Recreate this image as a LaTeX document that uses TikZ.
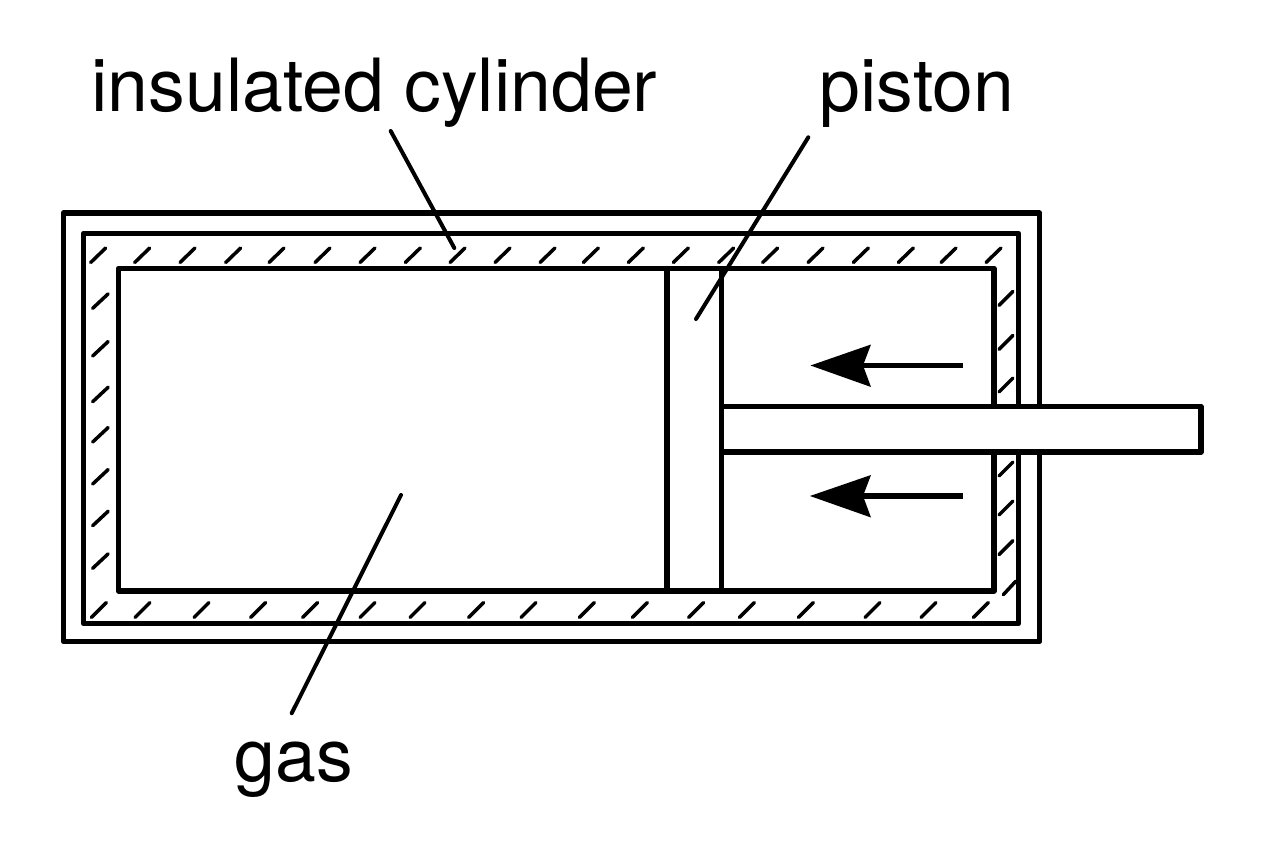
\documentclass[tikz,border=0pt]{standalone}
\usepackage{fontspec}
\setmainfont{TeX Gyre Heros}
\begin{document}
\begin{tikzpicture}[x=1pt,y=-1pt,
  wall/.style={line width=5.6pt,line join=round},
  hatchmark/.style={line width=3.5pt,line cap=round},
  leader/.style={line width=4pt,line cap=round},
  lbl/.style={inner sep=0pt,font=\fontsize{73.4}{73.4}\selectfont},
  pushshaft/.style={line width=5.6pt},
  pushhead/.style={fill=black,draw=none}]
\useasboundingbox (0,0) rectangle (1264,848);
\fill[white] (0,0) rectangle (1264,848);
% walls
\draw[wall] (63.5,213) rectangle (1039.5,641.5);
\draw[wall] (83.5,233.5) rectangle (1018.5,623.5);
\draw[wall] (118.5,268.5) rectangle (994,591);
% rod and piston
\draw[wall,fill=white] (721.5,406.5) -- (1201,406.5) -- (1201,452) -- (721.5,452);
\draw[wall] (667,268.5) rectangle (721.5,591);
% hatching: top, bottom
\foreach \x in {90.7,134.7,180,225.7,269,315,360,405.3,450,495,540,583.3,628.3,673.3,718.7,762.7,808,853.3,898.3,941,986}
  \draw[hatchmark] (\x,262.5) -- ++(15,-14.5);
\foreach \x in {91.3,135,194,250.7,302.7,360,410,468.7,521,579.3,632.3,688.7,739.3,798.3,865,921,973.3}
  \draw[hatchmark] (\x,617.5) -- ++(15,-15);
% hatching: left, right
\foreach \y in {308.3,356,401.7,442,484,525.7,568.3}
  \draw[hatchmark] (92.7,\y) -- ++(15.5,-14.5);
\foreach \y in {305.3,349.3,392,476,515,554.7}
  \draw[hatchmark] (999,\y) -- ++(14,-14);
\draw[hatchmark] (1003.3,594.7) -- ++(12.5,-13.5);
% arrows
\coordinate (upperTail) at (963,365.5);
\coordinate (upperNotch) at (863,365.5);
\coordinate (lowerTail) at (963,496);
\coordinate (lowerNotch) at (863,496);
\draw[pushshaft] (upperTail) -- (upperNotch);
\draw[pushshaft] (lowerTail) -- (lowerNotch);
\fill[pushhead] (810.5,365.5) -- (871,344.5) -- (upperNotch) -- (871,387) -- cycle;
\fill[pushhead] (810,496) -- (871,475) -- (lowerNotch) -- (871,517.5) -- cycle;
% labels
\node[lbl,anchor=base west] (lblcyl) at (91.5,111.5) {insulated cylinder};
\node[lbl,anchor=base west] (lblpiston) at (819.5,111.5) {piston};
\node[lbl,anchor=base west] (lblgas) at (234.5,781) {gas};
% leaders
\coordinate (cylTail) at (390.7,131);
\coordinate (cylTip) at (454.3,248);
\coordinate (pistonTail) at (808.3,137.3);
\coordinate (pistonTip) at (696,319);
\coordinate (gasTail) at (291.7,713.3);
\coordinate (gasTip) at (401,495);
\draw[leader] (cylTail) -- (cylTip);
\draw[leader] (pistonTail) -- (pistonTip);
\draw[leader] (gasTail) -- (gasTip);
\end{tikzpicture}
\end{document}
